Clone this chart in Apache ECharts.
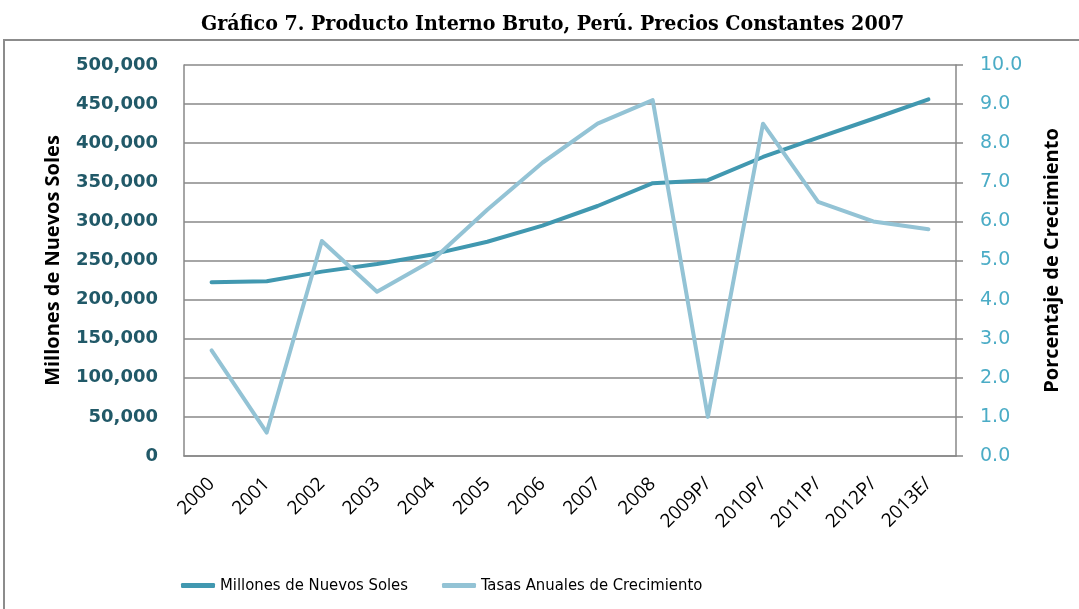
<!DOCTYPE html>
<html>
<head>
<meta charset="utf-8">
<script src="https://cdn.jsdelivr.net/npm/echarts@6/dist/echarts.min.js"></script>
<style>html,body{margin:0;padding:0;background:#fff;}#c{width:1079px;height:609px;}</style>
</head>
<body>
<div id="c"></div>
<script>
const categories = ['2000','2001','2002','2003','2004','2005','2006','2007','2008','2009P/','2010P/','2011P/','2012P/','2013E/'];
const pib = [222207, 223580, 235773, 245593, 257770, 273971, 294598, 319693, 348870, 352693, 382380, 407052, 431273, 456100];
const tasas = [2.7, 0.6, 5.5, 4.2, 5.0, 6.3, 7.5, 8.5, 9.1, 1.0, 8.5, 6.5, 6.0, 5.8];
const leftTicks = {min: 0, max: 500000, interval: 50000};
const rightTicks = {min: 0, max: 10, interval: 1};

const chart = echarts.init(document.getElementById('c'));
const gridColor = '#888888';
chart.setOption({
  animation: false,
  backgroundColor: '#ffffff',
  title: {
    text: 'Gráfico 7. Producto Interno Bruto, Perú. Precios Constantes 2007',
    left: 196, top: 9,
    textStyle: {fontFamily: "'DejaVu Serif Condensed', 'DejaVu Serif', serif", fontWeight: 'bold', fontSize: 21.2, color: '#000'}
  },
  graphic: [{
    type: 'rect', shape: {x: 4, y: 40, width: 1200, height: 700},
    style: {fill: 'none', stroke: '#8c8c8c', lineWidth: 2}, silent: true, z: -1
  }],
  legend: {
    top: 572, left: 176,
    itemWidth: 34, itemHeight: 5, itemGap: 34,
    icon: 'roundRect',
    textStyle: {fontFamily: "'DejaVu Sans Condensed', 'Liberation Sans', sans-serif", fontSize: 16.5, color: '#000'},
    data: ['Millones de Nuevos Soles', 'Tasas Anuales de Crecimiento']
  },
  grid: {left: 184, right: 123, top: 65, bottom: 153},
  xAxis: {
    type: 'category', data: categories, boundaryGap: true,
    axisLine: {lineStyle: {color: gridColor, width: 1.5}},
    axisTick: {show: false},
    axisLabel: {rotate: 45, margin: 25, fontSize: 19, color: '#000', fontFamily: "'Open Sans', sans-serif", interval: 0}
  },
  yAxis: [{
    type: 'value', min: leftTicks.min, max: leftTicks.max, interval: leftTicks.interval,
    name: 'Millones de Nuevos Soles', nameLocation: 'middle', nameGap: 121, nameRotate: 90,
    nameTextStyle: {fontFamily: "'Open Sans', sans-serif", fontWeight: 'bold', fontSize: 20, color: '#000'},
    axisLine: {show: true, lineStyle: {color: gridColor, width: 1.5}},
    axisTick: {show: false},
    splitLine: {show: true, lineStyle: {color: gridColor, width: 1.5}},
    axisLabel: {margin: 26, fontSize: 18, fontWeight: 'bold', color: '#215968', fontFamily: "'DejaVu Sans', sans-serif",
      formatter: v => v.toLocaleString('en-US')}
  }, {
    type: 'value', min: rightTicks.min, max: rightTicks.max, interval: rightTicks.interval, position: 'right',
    name: 'Porcentaje de Crecimiento', nameLocation: 'middle', nameGap: 86, nameRotate: 90,
    nameTextStyle: {fontFamily: "'Open Sans', sans-serif", fontWeight: 'bold', fontSize: 20, color: '#000'},
    axisLine: {show: true, lineStyle: {color: gridColor, width: 1.5}},
    axisTick: {show: true, length: 7, lineStyle: {color: gridColor, width: 1.5}},
    splitLine: {show: false},
    axisLabel: {margin: 24, fontSize: 19, color: '#4BACC6', fontFamily: "'DejaVu Sans', sans-serif",
      formatter: v => v.toFixed(1)}
  }],
  series: [{
    name: 'Millones de Nuevos Soles', type: 'line', yAxisIndex: 0, data: pib,
    showSymbol: false, symbol: 'none', color: '#4198B0',
    lineStyle: {width: 4, color: '#4198B0', cap: 'round', join: 'round'}, z: 2
  }, {
    name: 'Tasas Anuales de Crecimiento', type: 'line', yAxisIndex: 1, data: tasas,
    showSymbol: false, symbol: 'none', color: '#93C3D5',
    lineStyle: {width: 4, color: '#93C3D5', cap: 'round', join: 'round'}, z: 3
  }]
});
</script>
</body>
</html>
